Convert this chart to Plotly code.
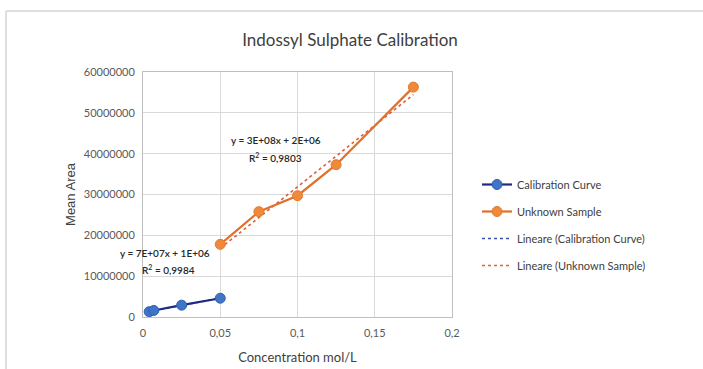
import numpy as np
import plotly.graph_objects as go

# Calibration standards
cal_conc = [0.004, 0.007, 0.025, 0.05]
cal_area = [1.3e6, 1.6e6, 2.9e6, 4.6e6]

# Unknown sample measurements
unk_conc = [0.05, 0.075, 0.1, 0.125, 0.175]
unk_area = [17.8e6, 25.8e6, 29.7e6, 37.3e6, 56.3e6]

x_tickvals = [0, 0.05, 0.1, 0.15, 0.2]
x_ticktext = ["0", "0,05", "0,1", "0,15", "0,2"]
y_tickvals = [0, 10e6, 20e6, 30e6, 40e6, 50e6, 60e6]
y_ticktext = ["0", "10000000", "20000000", "30000000", "40000000", "50000000", "60000000"]

W, H = 703, 369
ML, MR, MT, MB = 143, 251, 72, 52
PW, PH = W - ML - MR, H - MT - MB

FONT = "Lato"
TXT = "#404040"


def px_to_paper(px, py):
    return (px - ML) / PW, (H - MB - py) / PH


def linfit(x, y):
    slope, icpt = np.polyfit(x, y, 1)
    xs = np.array([min(x), max(x)])
    return xs, slope * xs + icpt


cal_tx, cal_ty = linfit(cal_conc, cal_area)
unk_tx, unk_ty = linfit(unk_conc, unk_area)

fig = go.Figure()

fig.add_trace(go.Scatter(
    x=cal_tx, y=cal_ty, mode="lines", name="Lineare (Calibration Curve)",
    line=dict(color="#3a4fa8", width=1.6, dash="dot"), legendgroup="c", legendrank=3,
))
fig.add_trace(go.Scatter(
    x=unk_tx, y=unk_ty, mode="lines", name="Lineare (Unknown Sample)",
    line=dict(color="#dc5f3a", width=1.6, dash="dot"), legendgroup="d", legendrank=4,
))
fig.add_trace(go.Scatter(
    x=cal_conc, y=cal_area, mode="lines+markers", name="Calibration Curve",
    line=dict(color="#1f2a80", width=2.2),
    marker=dict(color="#3f74c6", size=10, line=dict(color="#2f5fb0", width=1)),
    legendgroup="a", legendrank=1,
))
fig.add_trace(go.Scatter(
    x=unk_conc, y=unk_area, mode="lines+markers", name="Unknown Sample",
    line=dict(color="#e0702a", width=2.2),
    marker=dict(color="#f08a3a", size=10, line=dict(color="#e07a30", width=1)),
    legendgroup="b", legendrank=2,
))

# Trendline equations
ann_font = dict(family=FONT, size=10, color="#262626", weight=600)
labels = [
    (276, 140, "y = 3E+08x + 2E+06"),
    (275, 157, "R<sup>2</sup> = 0,9803"),
    (165, 253, "y = 7E+07x + 1E+06"),
    (168, 269, "R<sup>2</sup> = 0,9984"),
]
for px, py, txt in labels:
    lx, ly = px_to_paper(px, py)
    fig.add_annotation(x=lx, y=ly, xref="paper", yref="paper", showarrow=False,
                       xanchor="center", yanchor="middle", text=txt, font=ann_font)

# Outer chart frame (left and top edges)
fx0, fy0 = px_to_paper(6, 11)
_, fy1 = px_to_paper(6, H + 5)
fx1, _ = px_to_paper(W + 5, 11)
fig.add_shape(type="line", xref="paper", yref="paper", x0=fx0, x1=fx0, y0=fy0, y1=fy1,
              line=dict(color="#d4d4d4", width=1.5))
fig.add_shape(type="line", xref="paper", yref="paper", x0=fx0, x1=fx1, y0=fy0, y1=fy0,
              line=dict(color="#d4d4d4", width=1.5))

leg_x, leg_y = px_to_paper(477, 170)

fig.update_layout(
    width=W, height=H,
    margin=dict(l=ML, r=MR, t=MT, b=MB, autoexpand=False),
    paper_bgcolor="white", plot_bgcolor="white",
    font=dict(family=FONT, size=11, color="#595959"),
    title=dict(text="Indossyl Sulphate Calibration", x=350 / W, xanchor="center",
               y=1 - 40 / H, yanchor="middle",
               font=dict(family=FONT, size=17, color=TXT)),
    showlegend=True,
    legend=dict(x=leg_x, y=leg_y, xanchor="left", yanchor="top",
                font=dict(family=FONT, size=11, color=TXT),
                tracegroupgap=8, itemwidth=30, bgcolor="rgba(0,0,0,0)"),
    xaxis=dict(range=[0, 0.2], tickvals=x_tickvals, ticktext=x_ticktext,
               showgrid=True, gridcolor="#d9d9d9", gridwidth=1,
               showline=True, linecolor="#bfbfbf", linewidth=1, mirror=True,
               zeroline=False, ticks="outside", ticklen=6, tickcolor="rgba(0,0,0,0)",
               tickfont=dict(family=FONT, size=11, color="#595959"),
               title=dict(text="Concentration mol/L", standoff=14,
                          font=dict(family=FONT, size=13, color=TXT))),
    yaxis=dict(range=[0, 60e6], tickvals=y_tickvals, ticktext=y_ticktext,
               showgrid=True, gridcolor="#d9d9d9", gridwidth=1,
               showline=True, linecolor="#bfbfbf", linewidth=1, mirror=True,
               zeroline=False, ticks="outside", ticklen=5, tickcolor="rgba(0,0,0,0)",
               tickfont=dict(family=FONT, size=11, color="#595959"),
               title=dict(text="Mean Area", standoff=5,
                          font=dict(family="Liberation Sans", size=13, color=TXT))),
)

fig.write_html("out.html")
